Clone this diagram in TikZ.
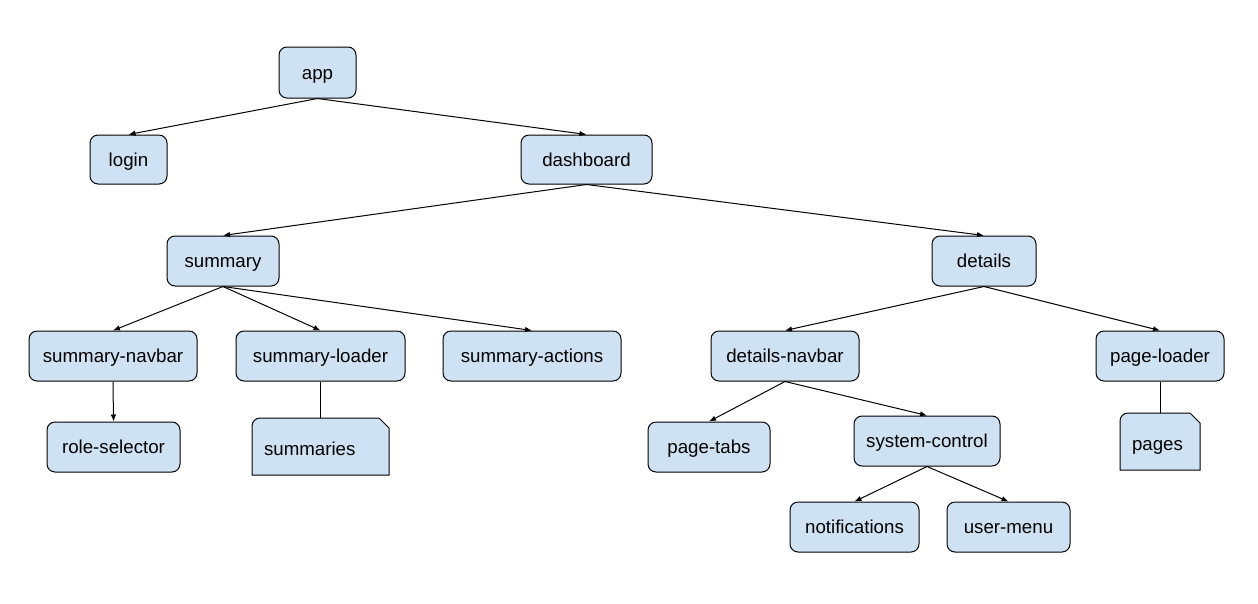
\documentclass[tikz,border=0pt]{standalone}
\usepackage{fontspec}
\setmainfont{Liberation Sans}
\usetikzlibrary{arrows.meta}
\definecolor{boxfill}{HTML}{CFE2F3}
\tikzset{
  box/.style={draw=black, fill=boxfill, line width=1pt, rounded corners=8pt,
    inner sep=0pt, text height=13pt, text depth=0pt, font=\fontsize{18.7}{22}\selectfont},
  cardtext/.style={inner xsep=12pt, inner ysep=0pt, text height=13pt, text depth=0pt,
    align=left, font=\fontsize{18.7}{22}\selectfont},
  card/.style={draw=black, fill=boxfill, line width=1pt},
  arr/.style={draw=black, line width=1pt, -{Latex[length=7pt,width=5.5pt]}},
  plain/.style={draw=black, line width=1pt},
}
\begin{document}
\begin{tikzpicture}[x=1pt,y=-1pt]
\useasboundingbox (0,0) rectangle (1258,603);

% component boxes
\node[box, minimum width=77pt, minimum height=51pt] (app) at (317.5,72.5) {app};
\node[box, minimum width=77pt, minimum height=49pt] (login) at (128.5,159.5) {login};
\node[box, minimum width=131pt, minimum height=49pt] (dashboard) at (586.5,159.5) {dashboard};
\node[box, minimum width=112pt, minimum height=50pt] (summary) at (223,261) {summary};
\node[box, minimum width=104pt, minimum height=50pt] (details) at (984,261) {details};
\node[box, minimum width=168pt, minimum height=50pt] (snavbar) at (113,356) {summary-navbar};
\node[box, minimum width=169pt, minimum height=50pt] (sloader) at (320.5,356) {summary-loader};
\node[box, minimum width=178pt, minimum height=50pt] (sactions) at (532,356) {summary-actions};
\node[box, minimum width=148pt, minimum height=50pt] (dnavbar) at (785,356) {details-navbar};
\node[box, minimum width=128pt, minimum height=50pt] (ploader) at (1160,356) {page-loader};
\node[box, minimum width=133pt, minimum height=50pt] (role) at (113.5,447) {role-selector};
\node[box, minimum width=122pt, minimum height=50pt] (tabs) at (709,447) {page-tabs};
\node[box, minimum width=146pt, minimum height=50pt] (sysctl) at (927,441) {system-control};
\node[box, minimum width=129pt, minimum height=50pt] (notif) at (854.5,527) {notifications};
\node[box, minimum width=123pt, minimum height=50pt] (umenu) at (1008.5,527) {user-menu};

% data cards: rounded top-left corner, clipped top-right corner
\coordinate (summariesC) at (320.5,446.5);
\coordinate (pagesC) at (1160,441.5);
\path[card] ([shift={(-68.5pt,-28.5pt)}]summariesC) -- ([shift={(-68.5pt,20.5pt)}]summariesC)
  arc[start angle=180, end angle=90, radius=8pt] -- ([shift={(58.5pt,28.5pt)}]summariesC)
  -- ([shift={(68.5pt,18.5pt)}]summariesC) -- ([shift={(68.5pt,-28.5pt)}]summariesC) -- cycle;
\path[card] ([shift={(-40pt,-28.5pt)}]pagesC) -- ([shift={(-40pt,20.5pt)}]pagesC)
  arc[start angle=180, end angle=90, radius=8pt] -- ([shift={(30pt,28.5pt)}]pagesC)
  -- ([shift={(40pt,18.5pt)}]pagesC) -- ([shift={(40pt,-28.5pt)}]pagesC) -- cycle;
\node[cardtext, text width=113pt, minimum height=57pt] (summaries) at (summariesC) {\raisebox{-2pt}{summaries}};
\node[cardtext, text width=56pt, minimum height=57pt] (pages) at (pagesC) {\raisebox{-2pt}{pages}};

% hierarchy connectors
\draw[arr] (app.south) -- (login.north);
\draw[arr] (app.south) -- (dashboard.north);
\draw[arr] (dashboard.south) -- (summary.north);
\draw[arr] (dashboard.south) -- (details.north);
\draw[arr] (summary.south) -- (snavbar.north);
\draw[arr] (summary.south) -- (sloader.north);
\draw[arr] (summary.south) -- (sactions.north);
\draw[arr] (details.south) -- (dnavbar.north);
\draw[arr] (details.south) -- (ploader.north);
\draw[arr] (snavbar.south) -- (role.north);
\draw[arr] (dnavbar.south) -- (tabs.north);
\draw[arr] (dnavbar.south) -- (sysctl.north);
\draw[arr] (sysctl.south) -- (notif.north);
\draw[arr] (sysctl.south) -- (umenu.north);
\draw[plain] (sloader.south) -- (summaries.north);
\draw[plain] (ploader.south) -- (pages.north);
\end{tikzpicture}
\end{document}
